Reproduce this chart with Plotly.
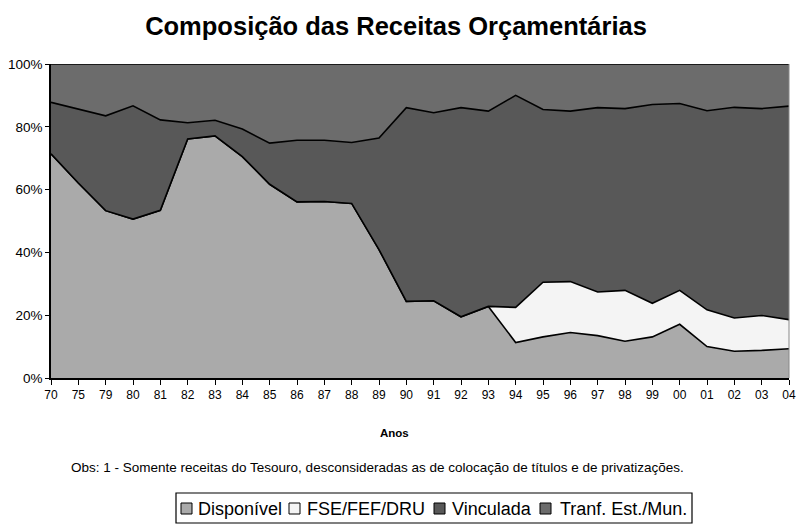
import plotly.graph_objects as go

anos = ["70", "75", "79", "80", "81", "82", "83", "84", "85", "86", "87", "88", "89",
        "90", "91", "92", "93", "94", "95", "96", "97", "98", "99", "00", "01", "02", "03", "04"]

disponivel = [71.4, 62.1, 53.3, 50.6, 53.4, 76.1, 77.1, 70.5, 61.7, 56.1, 56.2, 55.6, 40.9,
              24.4, 24.6, 19.5, 22.8, 11.3, 13.1, 14.5, 13.5, 11.7, 13.1, 17.1, 10.0, 8.5, 8.8, 9.3]
fse_fef_dru = [0, 0, 0, 0, 0, 0, 0, 0, 0, 0, 0, 0, 0,
               0, 0, 0, 0, 11.2, 17.4, 16.2, 13.9, 16.2, 10.7, 10.8, 11.7, 10.6, 11.1, 9.3]
vinculada = [16.4, 23.6, 30.2, 36.1, 28.8, 5.2, 5.0, 8.8, 13.1, 19.6, 19.5, 19.4, 35.5,
             61.7, 59.9, 66.6, 62.2, 67.5, 55.0, 54.3, 58.7, 57.9, 63.3, 59.5, 63.4, 67.1, 65.9, 68.0]
tranf = [12.2, 14.3, 16.5, 13.3, 17.8, 18.7, 17.9, 20.7, 25.2, 24.3, 24.3, 25.0, 23.6,
         13.9, 15.5, 13.9, 15.0, 10.0, 14.5, 15.0, 13.9, 14.2, 12.9, 12.6, 14.9, 13.8, 14.2, 13.4]

names = ["Disponível", "FSE/FEF/DRU", "Vinculada", "Tranf. Est./Mun."]
series = [disponivel, fse_fef_dru, vinculada, tranf]
colors = ["#aaaaaa", "#f4f4f4", "#585858", "#6c6c6c"]

FONT = "Liberation Sans, Arial, sans-serif"
W, H = 797, 524
ML, MR, MT, MB = 51, 8, 64, 146
PW, PH = W - ML - MR, H - MT - MB


def px(x):
    return (x - ML) / PW


def py(y):
    return (H - MB - y) / PH


fig = go.Figure()
for name, vals, col in zip(names, series, colors):
    fig.add_trace(go.Scatter(
        x=anos, y=vals, name=name, stackgroup="one", groupnorm="percent",
        mode="lines", line=dict(color="#000000", width=1.6),
        fillcolor=col, showlegend=False, hoverinfo="x+y+name"))

fig.update_layout(
    width=W, height=H,
    margin=dict(l=ML, r=MR, t=MT, b=MB, autoexpand=False),
    paper_bgcolor="white", plot_bgcolor="white",
    showlegend=False,
    font=dict(family=FONT, color="#000000"),
    title=dict(text="<b>Composição das Receitas Orçamentárias</b>",
               x=px(396), xanchor="center", xref="paper",
               y=1 - 26 / H, yref="container", yanchor="middle",
               font=dict(size=25.5, family=FONT)),
    xaxis=dict(type="category", range=[0, 27], showgrid=False, zeroline=False,
               showline=True, linecolor="#000000", linewidth=1.5,
               ticks="outside", ticklen=5, tickcolor="#000000",
               tickfont=dict(size=12, family=FONT), automargin=False),
    yaxis=dict(range=[0, 100], tickvals=[0, 20, 40, 60, 80, 100],
               ticktext=["0%", "20%", "40%", "60%", "80%", "100%"],
               showgrid=False, zeroline=False,
               showline=True, linecolor="#000000", linewidth=1.5,
               ticks="outside", ticklen=4, tickcolor="#000000",
               tickfont=dict(size=13.5, family=FONT), automargin=False),
)

annotations = [
    dict(text="<b>Anos</b>", x=px(394), y=py(433), font=dict(size=11.5, family=FONT)),
    dict(text="Obs: 1 - Somente receitas do Tesouro, desconsideradas as de colocação de títulos e de privatizações.",
         x=px(377.5), y=py(467), font=dict(size=13.5, family=FONT)),
]

# manual legend: box, swatches and labels
shapes = [
    dict(type="line", xref="paper", yref="paper", x0=1, x1=1, y0=0, y1=1,
         line=dict(color="#888888", width=1)),
    dict(type="rect", xref="paper", yref="paper", x0=px(176), x1=px(692),
         y0=py(493), y1=py(523), line=dict(color="#000000", width=1.2),
         fillcolor="white", layer="below"),
]
swatch_x = [181, 289, 434, 540]
label_x = [196, 305, 450, 558]
for name, col, sx, lx in zip(names, colors, swatch_x, label_x):
    shapes.append(dict(type="rect", xref="paper", yref="paper",
                       x0=px(sx), x1=px(sx + 11), y0=py(514), y1=py(503),
                       line=dict(color="#000000", width=1), fillcolor=col))
    annotations.append(dict(text=name, x=px(lx), y=py(509), xanchor="left",
                            font=dict(size=18, family=FONT)))

for a in annotations:
    a.setdefault("xanchor", "center")
    a.update(xref="paper", yref="paper", yanchor="middle", showarrow=False)

fig.update_layout(shapes=shapes, annotations=annotations)

fig.write_html("out.html", config={"displayModeBar": False},
               post_script="document.body.style.margin='0';")
